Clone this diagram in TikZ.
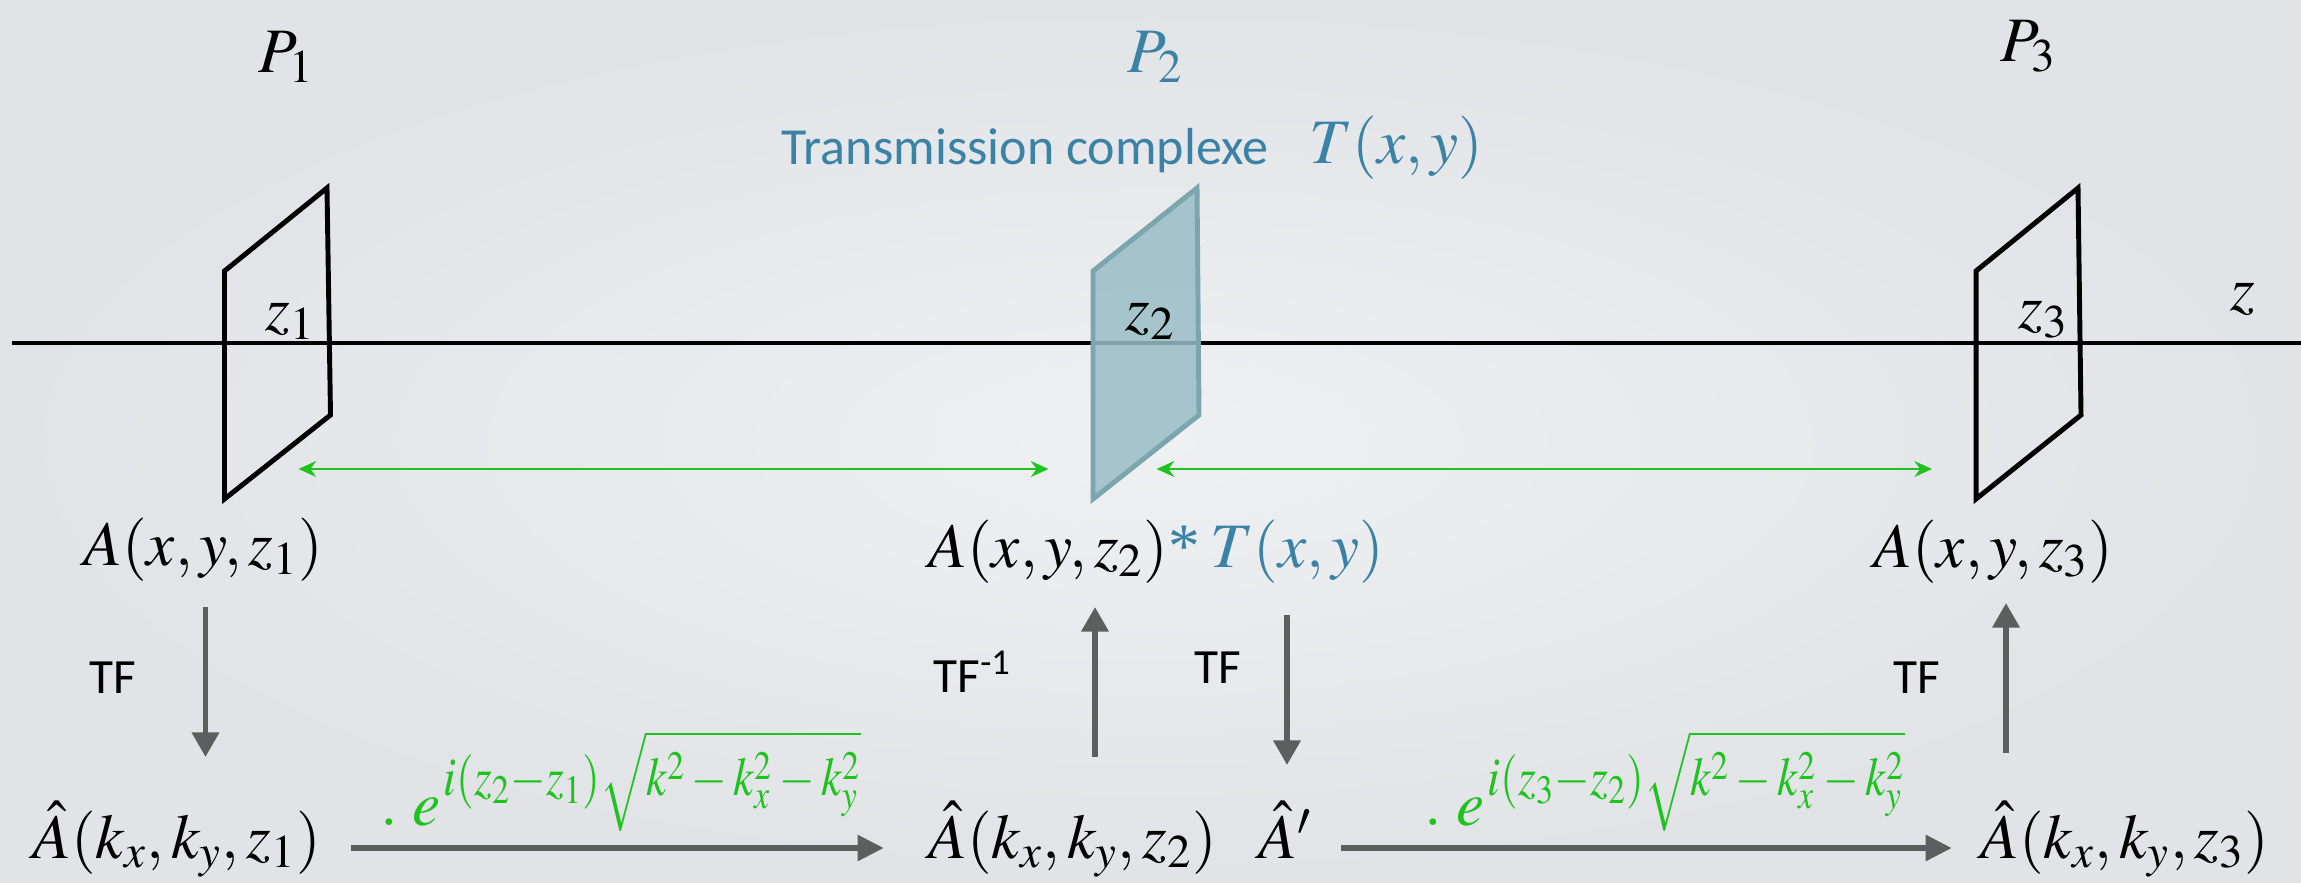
\documentclass[tikz,border=0pt]{standalone}
\usepackage{mathptmx}
\usepackage{graphicx}
\usepackage{fontspec}
\setmainfont{Liberation Serif}
\newfontfamily\calib{Carlito}
\usetikzlibrary{arrows.meta}
\definecolor{bgin}{HTML}{EEF0F2}
\definecolor{bgout}{HTML}{E1E3E6}
\definecolor{tblue}{HTML}{3A82A6}
\definecolor{grn}{HTML}{1EC31E}
\definecolor{arrgray}{HTML}{5D5F5F}
\definecolor{pfill}{RGB}{153,189,197}
\definecolor{pdraw}{HTML}{7CA6AE}
\newcommand\propexp[2]{\raisebox{8.5pt}{\scalebox{0.84}[1]{\fontsize{15.5}{17}\selectfont$i(z_#1{-}z_#2)\sqrt{k^2-k_x^2-k_y^2}$}}}
\tikzset{
  mathlbl/.style={anchor=base west, inner sep=0pt, font=\fontsize{18}{20}\selectfont},
  sanslbl/.style={anchor=base west, inner sep=0pt, font=\calib\fontsize{14.8}{17}\selectfont},
  tflbl/.style={anchor=base west, inner sep=0pt, font=\calib\fontsize{14}{16}\selectfont},
  planeline/.style={draw=black, line width=1.4pt, line join=miter},
  grayarr/.style={draw=arrgray, line width=1.6pt, -{Triangle[length=7pt,width=7.5pt]}},
  grayarrh/.style={draw=arrgray, line width=1.9pt, -{Triangle[length=7.5pt,width=7pt]}},
  greenarr/.style={draw=grn, line width=0.8pt, {Stealth[length=5pt,width=4.5pt]}-{Stealth[length=5pt,width=4.5pt]}},
}
\begin{document}
\begin{tikzpicture}[x=0.01cm,y=-0.01cm]
\useasboundingbox (0,0) rectangle (2301,882);
\shade[inner color=bgin, outer color=bgout] (0,0) rectangle (2301,882);

% axis
\coordinate (axL) at (12,343);
\coordinate (axR) at (2301,343);
\draw[line width=0.9pt] (axL) -- (axR);

% planes
\draw[planeline] (224.5,271) -- (327,188) -- (330.5,415) -- (224.5,499) -- cycle;
\draw[line width=1.4pt, draw=pdraw, fill=pfill, fill opacity=0.85, line join=miter]
  (1093,271) -- (1197,188) -- (1199,415) -- (1093,499) -- cycle;
\draw[planeline] (1976,271) -- (2078,188) -- (2081,415) -- (1976,499) -- cycle;

% plane labels
\node[mathlbl] (P1) at (258,73) {$P_1$};
\node[mathlbl, text=tblue] (P2) at (1127,73) {$P_2$};
\node[mathlbl] (P3) at (2000,62) {$P_3$};
\node[sanslbl, text=tblue] (trans) at (781,165) {Transmission complexe};
\node[mathlbl, text=tblue] (Txy) at (1309,163) {$T(x,y)$};

\node[mathlbl] (z1) at (265,330) {$z_1$};
\node[mathlbl] (z2) at (1125,330) {$z_2$};
\node[mathlbl] (z3) at (2018,328) {$z_3$};
\node[mathlbl] (zax) at (2230,310) {$z$};

% green distance arrows
\coordinate (g1a) at (298.5,469);
\coordinate (g1b) at (1048.5,469);
\coordinate (g2a) at (1156.6,469);
\coordinate (g2b) at (1932,469);
\draw[greenarr] (g1a) -- (g1b);
\draw[greenarr] (g2a) -- (g2b);

% field labels
\node[mathlbl] (A1) at (83,565) {$A(x,y,z_1)$};
\node[mathlbl] (A2) at (928,567) {$A(x,y,z_2)${\color{tblue}*\,$T(x,y)$}};
\node[mathlbl] (A3) at (1873,567) {$A(x,y,z_3)$};

\node[mathlbl] (H1) at (32,858) {$\hat{A}(k_x,k_y,z_1)$};
\node[mathlbl] (H2) at (928,858) {$\hat{A}(k_x,k_y,z_2)$};
\node[mathlbl] (H2p) at (1258,858) {$\hat{A}'$};
\node[mathlbl] (H3) at (1980,858) {$\hat{A}(k_x,k_y,z_3)$};

% TF labels
\node[tflbl] (tf1) at (89,693) {TF};
\node[tflbl] (tf2) at (933,692) {TF\textsuperscript{-1}};
\node[tflbl] (tf3) at (1194,683) {TF};
\node[tflbl] (tf4) at (1893,693) {TF};

% gray arrows
\coordinate (d1a) at (205.5,607);  \coordinate (d1b) at (205.5,757);
\coordinate (u2a) at (1095,757);   \coordinate (u2b) at (1095,607);
\coordinate (d3a) at (1287,615);   \coordinate (d3b) at (1287,765);
\coordinate (u4a) at (2006,753);   \coordinate (u4b) at (2006,603);
\draw[grayarr] (d1a) -- (d1b);
\draw[grayarr] (u2a) -- (u2b);
\draw[grayarr] (d3a) -- (d3b);
\draw[grayarr] (u4a) -- (u4b);
\coordinate (h1a) at (351,848);  \coordinate (h1b) at (884,848);
\coordinate (h2a) at (1341,848); \coordinate (h2b) at (1952,848);
\draw[grayarrh] (h1a) -- (h1b);
\draw[grayarrh] (h2a) -- (h2b);

% propagation factors
\node[mathlbl, text=grn] (ex1) at (380,825) {${.}\;e$\kern1pt\propexp{2}{1}};
\node[mathlbl, text=grn] (ex2) at (1424,825) {${.}\;e$\kern1pt\propexp{3}{2}};
\end{tikzpicture}
\end{document}
